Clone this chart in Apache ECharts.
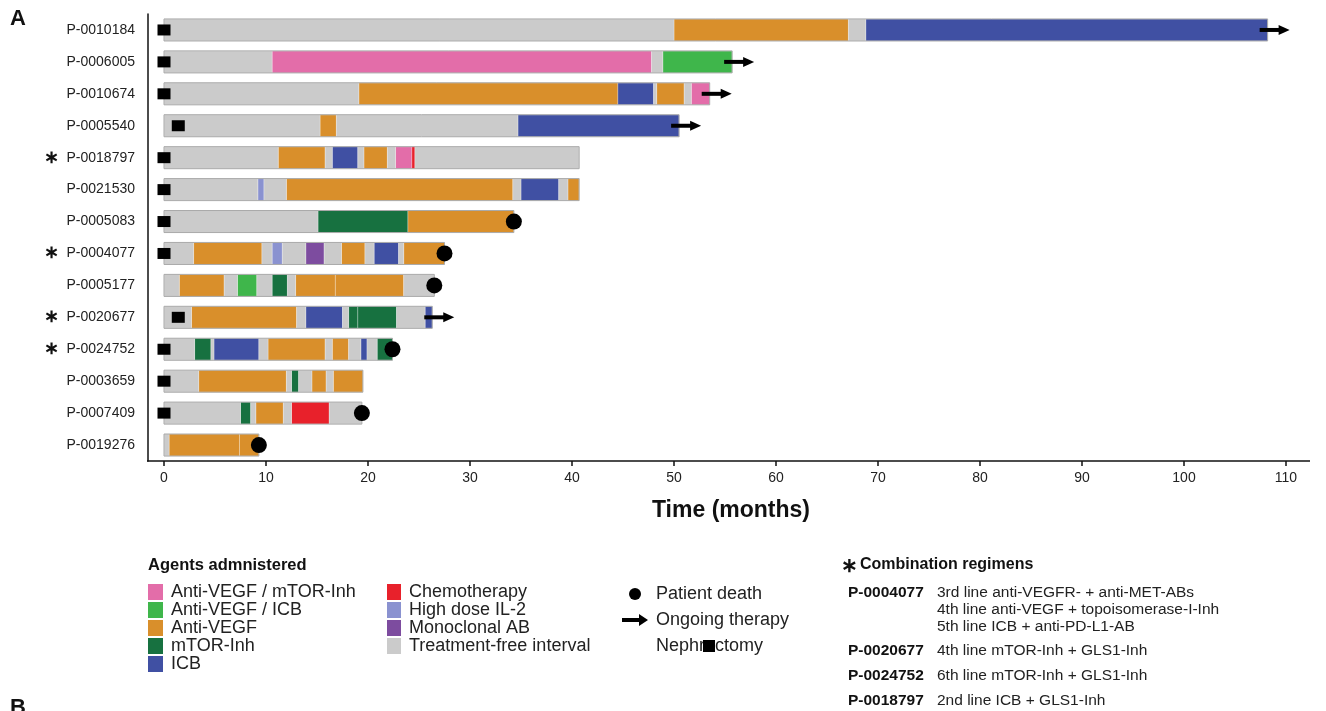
<!DOCTYPE html>
<html>
<head>
  <meta charset="utf-8">
  <title>Swimmer plot</title>
  <script src="https://cdn.jsdelivr.net/npm/echarts@6.0.0/dist/echarts.min.js"></script>
</head>
<body style="margin: 0; background: #fff">
  <div id="container" style="width: 1326px; height: 711px"></div>
  <script type="text/javascript">
    // patients, top to bottom
    var patients = ['P-0010184', 'P-0006005', 'P-0010674', 'P-0005540', 'P-0018797', 'P-0021530', 'P-0005083',
      'P-0004077', 'P-0005177', 'P-0020677', 'P-0024752', 'P-0003659', 'P-0007409', 'P-0019276'];
    var starred = ['P-0018797', 'P-0004077', 'P-0020677', 'P-0024752'];

    // segment boundaries (months) per patient, and one agent code per segment
    var breaks = [
      [0, 50.0, 67.1, 68.8, 108.2],
      [0, 10.6, 47.8, 48.9, 55.7],
      [0, 19.1, 44.5, 48.0, 48.3, 51.0, 51.7, 53.5],
      [0, 15.3, 16.9, 34.7, 50.5],
      [0, 11.2, 15.8, 16.5, 19.0, 19.6, 21.9, 22.7, 24.3, 24.6, 40.7],
      [0, 9.2, 9.8, 12.0, 34.2, 35.0, 38.7, 39.6, 40.7],
      [0, 15.1, 23.9, 34.3],
      [0, 2.9, 9.6, 10.6, 11.6, 13.9, 15.7, 17.4, 19.7, 20.6, 23.0, 23.5, 27.5],
      [0, 1.5, 5.9, 7.2, 9.1, 10.6, 12.1, 12.9, 16.8, 23.5, 26.5],
      [0, 2.7, 13.0, 13.9, 17.5, 18.1, 19.0, 22.8, 25.6, 26.3],
      [0, 3.0, 4.6, 4.9, 9.3, 10.2, 15.8, 16.5, 18.1, 19.3, 19.9, 20.9, 22.4],
      [0, 3.4, 12.0, 12.5, 13.2, 14.5, 15.9, 16.6, 19.5],
      [0, 7.5, 8.5, 9.0, 11.7, 12.5, 16.2, 19.4],
      [0, 0.5, 7.4, 9.3]
    ];
    var codes = ['TVTI', 'TMTG', 'TVITVTM', 'TVTI', 'TVTITVTMCT', 'TLTVTITV', 'TRV', 'TVTLTATVTITV',
      'TVTGTRTVVT', 'TVTITRRTI', 'TRTITVTVTITR', 'TVTRTVTV', 'TRTVTCT', 'TVV'];

    var nephrectomy = [0, 0, 0, 1.4, 0, 0, 0, 0, null, 1.4, 0, 0, 0, null];
    var outcome = ['arrow', 'arrow', 'arrow', 'arrow', null, null, 'death', 'death', 'death', 'arrow', 'death', null, 'death', 'death'];

    var agentCodes = ['M', 'G', 'V', 'R', 'I', 'C', 'L', 'A', 'T'];
    var agentNames = ['Anti-VEGF / mTOR-Inh', 'Anti-VEGF / ICB', 'Anti-VEGF', 'mTOR-Inh', 'ICB',
      'Chemotherapy', 'High dose IL-2', 'Monoclonal AB', 'Treatment-free interval'];
    var agentColors = ['#e36da9', '#3fb64b', '#d98f2b', '#177140', '#4050a3',
      '#e8212b', '#8a92d0', '#7d4c9f', '#cbcbcb'];

    var combos = [
      ['P-0004077', ['3rd line anti-VEGFR- + anti-MET-ABs', '4th line anti-VEGF + topoisomerase-I-Inh', '5th line ICB + anti-PD-L1-AB']],
      ['P-0020677', ['4th line mTOR-Inh + GLS1-Inh']],
      ['P-0024752', ['6th line mTOR-Inh + GLS1-Inh']],
      ['P-0018797', ['2nd line ICB + GLS1-Inh']]
    ];

    var FONT = "'Liberation Sans', Arial, sans-serif";

    var dom = document.getElementById('container');
    var myChart = echarts.init(dom, null, { renderer: 'canvas' });

    // build segment data per agent
    var segData = agentCodes.map(function () { return []; });
    var rowEnd = [];
    breaks.forEach(function (b, row) {
      for (var k = 0; k < b.length - 1; k++) {
        var a = agentCodes.indexOf(codes[row][k]);
        segData[a].push([row, b[k], b[k + 1]]);
      }
      rowEnd.push([row, 0, b[b.length - 1]]);
    });

    function renderSeg(params, api) {
      var row = api.value(0);
      var p0 = api.coord([api.value(1), row]);
      var p1 = api.coord([api.value(2), row]);
      var h = api.size([0, 1])[1] * 0.69;
      return {
        type: 'rect',
        shape: { x: p0[0], y: p0[1] - h / 2, width: p1[0] - p0[0], height: h },
        style: { fill: api.visual('color'), stroke: 'rgba(255,255,255,0.45)', lineWidth: 0.6 }
      };
    }

    function renderOutline(params, api) {
      var row = api.value(0);
      var p0 = api.coord([api.value(1), row]);
      var p1 = api.coord([api.value(2), row]);
      var h = api.size([0, 1])[1] * 0.69;
      return {
        type: 'rect',
        shape: { x: p0[0], y: p0[1] - h / 2, width: p1[0] - p0[0], height: h },
        style: { fill: 'none', stroke: '#a9a9a9', lineWidth: 1 }
      };
    }

    function renderArrow(params, api) {
      var p = api.coord([api.value(1), api.value(0)]);
      return {
        type: 'group',
        children: [
          { type: 'rect', shape: { x: p[0] - 8, y: p[1] - 2, width: 21, height: 4 }, style: { fill: '#000' } },
          { type: 'polygon', shape: { points: [[p[0] + 11, p[1] - 5], [p[0] + 22, p[1]], [p[0] + 11, p[1] + 5]] }, style: { fill: '#000' } }
        ]
      };
    }

    var series = agentNames.map(function (name, i) {
      return {
        name: name,
        type: 'custom',
        renderItem: renderSeg,
        itemStyle: { color: agentColors[i] },
        encode: { x: [1, 2], y: 0 },
        data: segData[i],
        z: 2
      };
    });

    series.push({
      name: 'outline',
      type: 'custom',
      renderItem: renderOutline,
      encode: { x: [1, 2], y: 0 },
      data: rowEnd,
      silent: true,
      z: 3
    });

    var arrowData = [], deathData = [], nephData = [];
    rowEnd.forEach(function (r, row) {
      if (outcome[row] === 'arrow') arrowData.push([row, r[2]]);
      if (outcome[row] === 'death') deathData.push([r[2], row]);
      if (nephrectomy[row] !== null) nephData.push([nephrectomy[row], row]);
    });

    series.push({
      name: 'Ongoing therapy',
      type: 'custom',
      renderItem: renderArrow,
      itemStyle: { color: '#000' },
      encode: { x: 1, y: 0 },
      data: arrowData,
      z: 5
    });
    series.push({
      name: 'Patient death',
      type: 'scatter',
      symbol: 'circle',
      symbolSize: 16,
      itemStyle: { color: '#000', opacity: 1 },
      data: deathData,
      z: 5
    });
    series.push({
      name: 'Nephrectomy',
      type: 'scatter',
      symbol: 'rect',
      symbolSize: [13, 11],
      itemStyle: { color: '#000', opacity: 1 },
      data: nephData,
      z: 6
    });

    // text blocks under the chart
    var graphics = [
      { type: 'text', left: 10, top: 8, style: { text: 'A', font: 'bold 22px ' + FONT, fill: '#111' } },
      { type: 'text', left: 10, top: 697, style: { text: 'B', font: 'bold 22px ' + FONT, fill: '#111' } },
      // x axis line reaches back to the y axis
      { type: 'line', shape: { x1: 147, y1: 461, x2: 1310, y2: 461 }, style: { stroke: '#111', lineWidth: 1.5 }, z: 10 },
      { type: 'text', left: 148, top: 557, style: { text: 'Agents admnistered', font: 'bold 16.5px ' + FONT, fill: '#111' } },
      { type: 'rect', shape: { x: 703, y: 640, width: 12, height: 12 }, style: { fill: '#000' }, z: 20 },
      { type: 'text', left: 841, top: 556, style: { text: '\u2217', font: 'bold 20px ' + FONT, fill: '#111' } },
      { type: 'text', left: 860, top: 557, style: { text: 'Combination regimens', font: 'bold 16px ' + FONT, fill: '#111' } }
    ];
    var comboTops = [585, 643, 668, 693];
    combos.forEach(function (c, i) {
      graphics.push({ type: 'text', left: 848, top: comboTops[i], style: { text: c[0], font: 'bold 15.5px ' + FONT, fill: '#111' } });
      c[1].forEach(function (line, j) {
        graphics.push({ type: 'text', left: 937, top: comboTops[i] + j * 17, style: { text: line, font: '15.5px ' + FONT, fill: '#222' } });
      });
    });

    var legendText = { fontSize: 18, lineHeight: 18, color: '#222', fontFamily: FONT, padding: [0, 0, 0, 3] };

    var option = {
      backgroundColor: '#fff',
      animation: false,
      grid: { left: 164, right: 40, top: 14, bottom: 250 },
      xAxis: {
        type: 'value',
        min: 0,
        max: 110,
        interval: 10,
        splitLine: { show: false },
        axisLine: { show: false },
        axisTick: { show: true, length: 5, lineStyle: { color: '#111', width: 1.5 } },
        axisLabel: { color: '#222', fontSize: 14, fontFamily: FONT, margin: 10 },
        name: 'Time (months)',
        nameLocation: 'middle',
        nameGap: 38,
        nameTextStyle: { fontSize: 23, fontWeight: 'bold', color: '#111', fontFamily: FONT, padding: [0, 0, 0, 12] }
      },
      yAxis: {
        type: 'category',
        data: patients,
        inverse: true,
        offset: 16,
        axisLine: { onZero: false, lineStyle: { color: '#111', width: 1.5 } },
        axisTick: { show: false },
        axisLabel: {
          color: '#222',
          fontSize: 14,
          fontFamily: FONT,
          margin: 13,
          formatter: function (v) {
            return starred.indexOf(v) >= 0 ? '{s|\u2217}  ' + v : v;
          },
          rich: { s: { fontSize: 18, fontWeight: 'bold', color: '#111', fontFamily: FONT } }
        }
      },
      legend: [
        {
          data: agentNames.slice(0, 5), orient: 'vertical', left: 143, top: 578,
          icon: 'rect', itemWidth: 15, itemHeight: 16, itemGap: 0, textStyle: legendText, selectedMode: false
        },
        {
          data: agentNames.slice(5), orient: 'vertical', left: 382, top: 578,
          icon: 'rect', itemWidth: 14, itemHeight: 16, itemGap: 0, textStyle: legendText, selectedMode: false
        },
        {
          data: [
            { name: 'Patient death', icon: 'circle' },
            { name: 'Ongoing therapy', icon: 'path://M0,4 L17,4 L17,0 L26,6 L17,12 L17,8 L0,8 Z' },
            { name: 'Nephrectomy', icon: 'none' }
          ],
          orient: 'vertical', left: 617, top: 580,
          itemWidth: 26, itemHeight: 12, itemGap: 8, itemStyle: { color: '#000' },
          textStyle: legendText, selectedMode: false
        }
      ],
      graphic: graphics,
      series: series
    };

    myChart.setOption(option);
  </script>
</body>
</html>
